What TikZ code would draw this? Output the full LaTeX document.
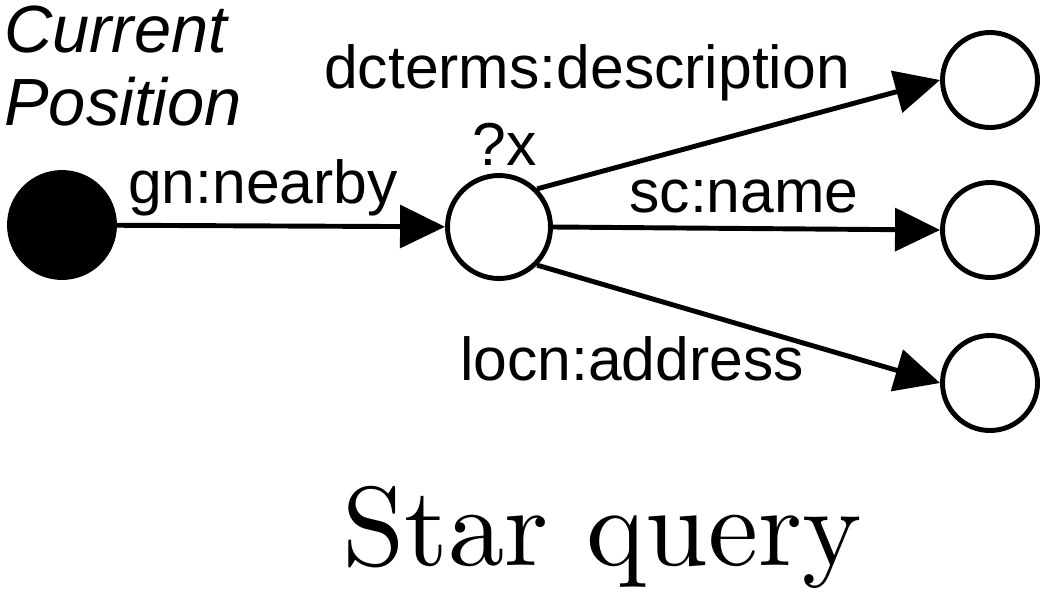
\documentclass[tikz,border=0pt]{standalone}
\usepackage{fontspec}
\newfontfamily\arialfont{Liberation Sans}
\usetikzlibrary{arrows.meta}
\usetikzlibrary{positioning}

\begin{document}
\begin{tikzpicture}[
    var/.style={circle, draw, line width=2.8pt, minimum size=1.9cm, inner sep=0pt},
    lbl/.style={font=\arialfont\fontsize{34.5}{40}\selectfont, inner sep=0pt, anchor=base},
    att/.style={-{Triangle[length=0.9cm,width=0.85cm]}, line width=2.8pt}
]
    \useasboundingbox (0,0) rectangle (21.14,11.82);

    %S: current position
    \node[var, fill=black, minimum size=2.1cm] (cur) at (1.24,7.32) {};
    \node[font=\arialfont\itshape\fontsize{38}{41.5}\selectfont, align=left,
        anchor=north west, inner sep=0pt] (curtxt) at (0.08,11.70) {Current\\Position};

    % ------------------

    %O: variable ?x
    \node[var, minimum size=2.06cm] (px) at (9.98,7.28) {};
    \node[lbl] (pxtxt) at (10.1,8.52) {?x};

    % ------------------

    %O: objects of ?x
    \node[var] (pdesc) at (19.8,10.22) {};
    \node[var] (pname) at (19.8,7.22) {};
    \node[var] (paddr) at (19.8,4.16) {};

    % predicates
    \node[lbl] (lnear) at (5.26,7.76) {gn:nearby};
    \node[lbl] (ldesc) at (11.74,10.06) {dcterms:description};
    \node[lbl] (lname) at (14.88,7.58) {sc:name};
    \node[lbl] (laddr) at (12.64,4.22) {locn:address};

    % caption
    \node[anchor=base, scale=6.4, inner sep=0pt] (cap) at (12.04,0.52) {Star query};

    % edges
    \path[att]
    (cur) edge (px)
    (px.45) edge (pdesc.west)
    (px.east) edge (pname.west)
    (px.-45) edge (paddr.west)
    ;
\end{tikzpicture}
\end{document}
